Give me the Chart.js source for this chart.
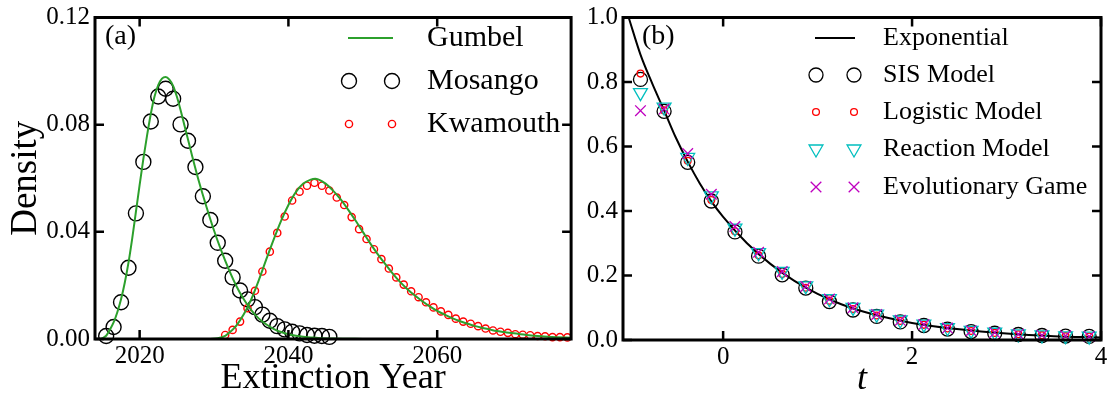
<!DOCTYPE html>
<html>
<head>
<meta charset="utf-8">
<script src="https://cdn.jsdelivr.net/npm/chart.js@4.4.0/dist/chart.umd.min.js"></script>
<style>
  html, body { margin: 0; padding: 0; background: #fff; }
  #wrap { position: relative; width: 1114px; height: 398px; }
  .panel { position: absolute; top: 0; height: 398px; }
  #panelA { left: 0; width: 580px; }
  #panelB { left: 580px; width: 534px; }
</style>
</head>
<body>
<div id="wrap">
  <div class="panel" id="panelA"><canvas id="chartA"></canvas></div>
  <div class="panel" id="panelB"><canvas id="chartB"></canvas></div>
</div>
<script>
// ---- panel (a): extinction year histograms + Gumbel fits ----
const mosangoYears = [2015.5, 2016.5, 2017.5, 2018.5, 2019.5, 2020.5, 2021.5, 2022.5, 2023.5, 2024.5,
  2025.5, 2026.5, 2027.5, 2028.5, 2029.5, 2030.5, 2031.5, 2032.5, 2033.5, 2034.5,
  2035.5, 2036.5, 2037.5, 2038.5, 2039.5, 2040.5, 2041.5, 2042.5, 2043.5, 2044.5, 2045.5];
const mosangoDensity = [0.0011, 0.0045, 0.0137, 0.0266, 0.0469, 0.0661, 0.0812, 0.0905, 0.0934, 0.0897,
  0.0801, 0.0740, 0.0642, 0.0533, 0.0444, 0.0359, 0.0292, 0.0230, 0.0181, 0.0148,
  0.0119, 0.0091, 0.0068, 0.0048, 0.0036, 0.0027, 0.0021, 0.0015, 0.0012, 0.0011, 0.0008];

const kwamouthYears = [2031.5, 2032.5, 2033.5, 2034.5, 2035.5, 2036.5, 2037.5, 2038.5, 2039.5, 2040.5,
  2041.5, 2042.5, 2043.5, 2044.5, 2045.5, 2046.5, 2047.5, 2048.5, 2049.5, 2050.5,
  2051.5, 2052.5, 2053.5, 2054.5, 2055.5, 2056.5, 2057.5, 2058.5, 2059.5, 2060.5,
  2061.5, 2062.5, 2063.5, 2064.5, 2065.5, 2066.5, 2067.5, 2068.5, 2069.5, 2070.5,
  2071.5, 2072.5, 2073.5, 2074.5, 2075.5, 2076.5, 2077.5];
const kwamouthDensity = [0.0015, 0.0034, 0.0065, 0.0115, 0.0180, 0.0252, 0.0326, 0.0396, 0.0457, 0.0517,
  0.0550, 0.0572, 0.0583, 0.0572, 0.0554, 0.0528, 0.0500, 0.0455, 0.0410, 0.0373,
  0.0335, 0.0298, 0.0263, 0.0230, 0.0203, 0.0178, 0.0156, 0.0137, 0.0118, 0.0103,
  0.0090, 0.0076, 0.0065, 0.0057, 0.0048, 0.0039, 0.0032, 0.0027, 0.0023, 0.0018,
  0.0016, 0.0014, 0.0011, 0.0010, 0.0007, 0.0007, 0.0006];

const gumbelAYears = [2014.8, 2015.5, 2016, 2016.5, 2017, 2017.5, 2018, 2018.5, 2019, 2019.5,
  2020, 2020.5, 2021, 2021.5, 2022, 2022.5, 2023, 2023.5, 2024, 2024.5,
  2025, 2025.5, 2026, 2027, 2028, 2029, 2030, 2031, 2032, 2033,
  2034, 2035, 2036, 2037, 2038, 2039, 2040, 2041, 2042, 2043, 2044, 2046, 2048, 2050];
const gumbelADensity = [0, 0.0012, 0.0035, 0.0062, 0.0100, 0.0148, 0.0210, 0.0285, 0.0375, 0.0475,
  0.0575, 0.0672, 0.0760, 0.0840, 0.0905, 0.0948, 0.0972, 0.0978, 0.0968, 0.0945,
  0.0905, 0.0855, 0.0800, 0.0690, 0.0585, 0.0492, 0.0405, 0.0328, 0.0259, 0.0198,
  0.0148, 0.0108, 0.0077, 0.0055, 0.0038, 0.0026, 0.0018, 0.0012, 0.0008, 0.0006, 0.0004, 0.0002, 0.0001, 0];

const gumbelBYears = [2029.5, 2030.5, 2031.5, 2032, 2033, 2034, 2035, 2036, 2037, 2038,
  2039, 2040, 2041, 2042, 2043, 2043.6, 2044, 2045, 2046, 2047,
  2048, 2049, 2050, 2051, 2052, 2053, 2054, 2055, 2056, 2057,
  2058, 2059, 2060, 2061, 2062, 2063, 2064, 2065, 2066, 2067,
  2068, 2069, 2070, 2072, 2074, 2076, 2078];
const gumbelBDensity = [0, 0.0003, 0.0012, 0.0022, 0.0050, 0.0092, 0.0148, 0.0218, 0.0295, 0.0370,
  0.0440, 0.0500, 0.0548, 0.0580, 0.0595, 0.0598, 0.0596, 0.0580, 0.0554, 0.0522,
  0.0484, 0.0443, 0.0400, 0.0357, 0.0317, 0.0280, 0.0245, 0.0213, 0.0186, 0.0162,
  0.0141, 0.0122, 0.0105, 0.0091, 0.0078, 0.0067, 0.0058, 0.0049, 0.0042, 0.0036,
  0.0030, 0.0026, 0.0022, 0.0015, 0.0010, 0.0007, 0.0005];

const yearTicks = [2020, 2040, 2060];
const densityTicks = [0, 0.04, 0.08, 0.12];

// ---- panel (b): model comparison against exponential ----
const tPoints = [-0.875, -0.625, -0.375, -0.125, 0.125, 0.375, 0.625, 0.875, 1.125, 1.375,
  1.625, 1.875, 2.125, 2.375, 2.625, 2.875, 3.125, 3.375, 3.625, 3.875];
const sisValues = [0.808, 0.709, 0.551, 0.431, 0.335, 0.260, 0.202, 0.161, 0.119, 0.093,
  0.073, 0.056, 0.045, 0.034, 0.026, 0.021, 0.017, 0.014, 0.012, 0.011];
const logisticValues = [0.826, 0.712, 0.556, 0.434, 0.337, 0.263, 0.205, 0.162, 0.122, 0.096,
  0.076, 0.059, 0.047, 0.036, 0.028, 0.022, 0.018, 0.015, 0.012, 0.011];
const reactionValues = [0.767, 0.722, 0.566, 0.447, 0.347, 0.271, 0.213, 0.168, 0.128, 0.101,
  0.080, 0.062, 0.049, 0.038, 0.030, 0.024, 0.019, 0.016, 0.013, 0.012];
const gameValues = [0.711, 0.716, 0.578, 0.452, 0.352, 0.272, 0.212, 0.166, 0.127, 0.100,
  0.079, 0.061, 0.048, 0.037, 0.029, 0.023, 0.018, 0.015, 0.013, 0.011];

const expT = [-1.0, -0.875, -0.75, -0.625, -0.5, -0.375, -0.25, -0.125, 0, 0.25,
  0.5, 0.75, 1.0, 1.25, 1.5, 1.75, 2.0, 2.5, 3.0, 3.5, 4.0];
const expValues = [1.0, 0.885, 0.795, 0.712, 0.627, 0.553, 0.487, 0.430, 0.382, 0.301,
  0.236, 0.184, 0.143, 0.111, 0.087, 0.068, 0.053, 0.033, 0.020, 0.012, 0.008];

const tTicks = [0, 2, 4];
const fracTicks = [0, 0.2, 0.4, 0.6, 0.8, 1.0];

const SERIF = '"Liberation Serif", "Times New Roman", serif';
Chart.defaults.font.family = SERIF;
Chart.defaults.color = '#000';

const zip = (xs, ys) => xs.map((x, i) => ({ x, y: ys[i] }));

// frame, inward ticks, panel tag and gnuplot-style key
const decor = {
  id: 'decor',
  afterDatasetsDraw(chart, args, opts) {
    const { ctx, chartArea: a } = chart;
    const { x, y } = chart.scales;
    ctx.save();
    ctx.strokeStyle = '#000';
    ctx.lineWidth = 3;
    ctx.strokeRect(a.left, a.top, a.right - a.left, a.bottom - a.top);
    ctx.lineWidth = 2.5;
    ctx.beginPath();
    x.ticks.forEach(t => {
      const px = x.getPixelForValue(t.value);
      ctx.moveTo(px, a.bottom); ctx.lineTo(px, a.bottom - 9);
      ctx.moveTo(px, a.top); ctx.lineTo(px, a.top + 9);
    });
    y.ticks.forEach(t => {
      const py = y.getPixelForValue(t.value);
      ctx.moveTo(a.left, py); ctx.lineTo(a.left + 9, py);
      ctx.moveTo(a.right, py); ctx.lineTo(a.right - 9, py);
    });
    ctx.stroke();

    ctx.fillStyle = '#000';
    ctx.textAlign = 'left';
    ctx.textBaseline = 'middle';
    ctx.font = '28px ' + SERIF;
    ctx.fillText(opts.tag, opts.tagX, opts.tagY);

    ctx.font = opts.keySize + 'px ' + SERIF;
    opts.key.forEach(row => {
      const ds = chart.data.datasets[row.ds];
      if (ds.showLine) {
        ctx.strokeStyle = ds.borderColor;
        ctx.lineWidth = ds.borderWidth;
        ctx.beginPath();
        ctx.moveTo(opts.x0, row.y); ctx.lineTo(opts.x1, row.y);
        ctx.stroke();
      } else {
        ctx.strokeStyle = ds.borderColor;
        ctx.fillStyle = 'rgba(0,0,0,0)';
        ctx.lineWidth = ds.borderWidth;
        const st = { pointStyle: ds.pointStyle || 'circle', radius: ds.pointRadius, rotation: ds.rotation || 0, borderWidth: ds.borderWidth };
        Chart.helpers.drawPoint(ctx, st, opts.x0 + 1, row.y);
        Chart.helpers.drawPoint(ctx, st, opts.x1 - 1, row.y);
      }
      ctx.fillStyle = '#000';
      ctx.fillText(ds.label, opts.textX, row.y);
    });
    ctx.restore();
  }
};

function axis(min, max, tickVals, fmt, size, title, titleFont, titlePad, fit) {
  return {
    type: 'linear', min, max,
    afterBuildTicks: s => { s.ticks = tickVals.map(v => ({ value: v })); },
    afterFit: fit,
    grid: { display: false, drawTicks: false },
    border: { display: false },
    ticks: { font: { size, lineHeight: 1 }, color: '#000', padding: 5, maxRotation: 0, autoSkip: false, callback: fmt },
    title: { display: true, text: title, color: '#000', font: titleFont, padding: titlePad }
  };
}

new Chart(document.getElementById('chartA'), {
  type: 'scatter',
  data: {
    datasets: [
      { label: 'Gumbel', data: zip(gumbelAYears, gumbelADensity), showLine: true, pointRadius: 0,
        borderColor: '#2ca02c', borderWidth: 2, cubicInterpolationMode: 'monotone', order: 1 },
      { label: 'Gumbel B', data: zip(gumbelBYears, gumbelBDensity), showLine: true, pointRadius: 0,
        borderColor: '#2ca02c', borderWidth: 2, cubicInterpolationMode: 'monotone', order: 1 },
      { label: 'Mosango', data: zip(mosangoYears, mosangoDensity), pointRadius: 7.5, pointStyle: 'circle',
        borderColor: '#000', backgroundColor: 'rgba(0,0,0,0)', borderWidth: 1.4, clip: false, order: 3 },
      { label: 'Kwamouth', data: zip(kwamouthYears, kwamouthDensity), pointRadius: 3.6, pointStyle: 'circle',
        borderColor: '#ff0000', backgroundColor: 'rgba(0,0,0,0)', borderWidth: 1.4, clip: false, order: 2 }
    ]
  },
  options: {
    responsive: true, maintainAspectRatio: false, animation: false, devicePixelRatio: 1,
    layout: { padding: { top: 14, right: 8, bottom: 0, left: 0 } },
    plugins: {
      legend: { display: false }, tooltip: { enabled: false },
      decor: { tag: '(a)', tagX: 105, tagY: 37, keySize: 30, x0: 348, x1: 393, textX: 427,
        key: [{ ds: 0, y: 38 }, { ds: 2, y: 81 }, { ds: 3, y: 124 }] }
    },
    scales: {
      x: axis(2014, 2078, yearTicks, v => String(v), 25, 'Extinction Year', { size: 36, lineHeight: 1 },
        { top: 0, bottom: 1 }, s => { s.height = 59; }),
      y: axis(0, 0.12, densityTicks, v => v.toFixed(2), 25, 'Density', { size: 37, lineHeight: 1 },
        { top: 8, bottom: 0 }, s => { s.width = 95; })
    }
  },
  plugins: [decor]
});

new Chart(document.getElementById('chartB'), {
  type: 'scatter',
  data: {
    datasets: [
      { label: 'Exponential', data: zip(expT, expValues), showLine: true, pointRadius: 0,
        borderColor: '#000', borderWidth: 2, cubicInterpolationMode: 'monotone', order: 5 },
      { label: 'SIS Model', data: zip(tPoints, sisValues), pointRadius: 7, pointStyle: 'circle',
        borderColor: '#000', backgroundColor: 'rgba(0,0,0,0)', borderWidth: 1.3, clip: false, order: 4 },
      { label: 'Logistic Model', data: zip(tPoints, logisticValues), pointRadius: 3.4, pointStyle: 'circle',
        borderColor: '#ff0000', backgroundColor: 'rgba(0,0,0,0)', borderWidth: 1.3, clip: false, order: 3 },
      { label: 'Reaction Model', data: zip(tPoints, reactionValues), pointRadius: 8, pointStyle: 'triangle', rotation: 180,
        borderColor: '#00bfbf', backgroundColor: 'rgba(0,0,0,0)', borderWidth: 1.3, clip: false, order: 2 },
      { label: 'Evolutionary Game', data: zip(tPoints, gameValues), pointRadius: 7.5, pointStyle: 'crossRot',
        borderColor: '#bf00bf', backgroundColor: 'rgba(0,0,0,0)', borderWidth: 1.3, clip: false, order: 1 }
    ]
  },
  options: {
    responsive: true, maintainAspectRatio: false, animation: false, devicePixelRatio: 1,
    layout: { padding: { top: 14, right: 13, bottom: 0, left: 0 } },
    plugins: {
      legend: { display: false }, tooltip: { enabled: false },
      decor: { tag: '(b)', tagX: 62, tagY: 37, keySize: 26, x0: 235, x1: 275, textX: 303,
        key: [{ ds: 0, y: 38 }, { ds: 1, y: 75 }, { ds: 2, y: 112 }, { ds: 3, y: 149 }, { ds: 4, y: 187 }] }
    },
    scales: {
      x: axis(-1.06, 4, tTicks, v => String(v), 25, 't', { size: 36, style: 'italic', lineHeight: 1 },
        { top: 0, bottom: 0 }, s => { s.height = 58; }),
      y: axis(0, 1, fracTicks, v => v.toFixed(1), 25, '', { size: 30 }, 0, s => { s.width = 43; })
    }
  },
  plugins: [decor]
});
</script>
</body>
</html>
